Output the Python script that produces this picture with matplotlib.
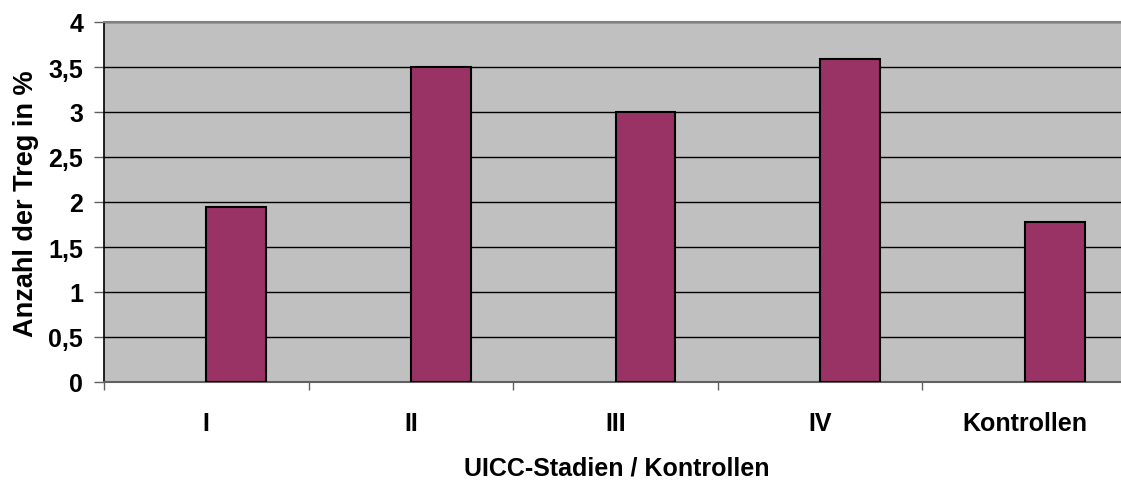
import numpy as np
import matplotlib.pyplot as plt
from matplotlib.ticker import FixedLocator, FuncFormatter

# data
categories = ['I', 'II', 'III', 'IV', 'Kontrollen']
treg = [1.94, 3.5, 3.0, 3.59, 1.78]
yticks = [0, 0.5, 1, 1.5, 2, 2.5, 3, 3.5, 4]

plt.rcParams['font.family'] = ['Liberation Sans', 'DejaVu Sans']
plt.rcParams['font.weight'] = 'bold'

fig = plt.figure(figsize=(11.21, 4.81), dpi=100)
# axes runs slightly past the right edge like the original
ax = fig.add_axes([104/1121, 1 - 383/481, (1127 - 104)/1121, (383 - 23)/481])
ax.set_facecolor('#C0C0C0')

x = np.arange(len(categories))
bw = 0.293
ax.bar(x + 0.5, treg, width=bw, align='edge', color='#993366',
       edgecolor='black', linewidth=1.5, zorder=3)

ax.set_xlim(0, len(categories))
ax.set_ylim(0, 4)

ax.set_yticks(yticks)
ax.yaxis.set_major_formatter(FuncFormatter(lambda v, p: ('%g' % v).replace('.', ',')))
ax.yaxis.grid(True, color='black', linewidth=1.0, zorder=1)
ax.set_axisbelow(True)

ax.xaxis.set_major_locator(FixedLocator(np.arange(len(categories) + 1)))
ax.xaxis.set_major_formatter(FuncFormatter(lambda v, p: ''))
ax.xaxis.set_minor_locator(FixedLocator(x + 0.5))
ax.set_xticklabels(categories, minor=True)

ax.tick_params(axis='x', which='major', length=6, color='#606060', width=1)
ax.tick_params(axis='x', which='minor', length=0, pad=21, labelsize=18)
ax.tick_params(axis='y', length=7, width=1, color='#606060', pad=8, labelsize=18)

for lbl in ax.get_xticklabels(minor=True) + ax.get_yticklabels():
    lbl.set_fontweight('bold')

ax.spines['left'].set_color('black')
ax.spines['left'].set_linewidth(1.2)
ax.spines['bottom'].set_color('#606060')
ax.spines['bottom'].set_linewidth(1.5)
ax.spines['top'].set_color('#808080')
ax.spines['top'].set_linewidth(1.5)
ax.spines['right'].set_visible(False)

fig.text(617/1121, 1 - 469/481, 'UICC-Stadien / Kontrollen', ha='center', va='center',
         fontsize=18, fontweight='bold')
fig.text(26/1121, 1 - 204/481, 'Anzahl der Treg in %', ha='center', va='center',
         rotation=90, fontsize=19.5, fontweight='bold')

plt.savefig('out.png', dpi=100)
